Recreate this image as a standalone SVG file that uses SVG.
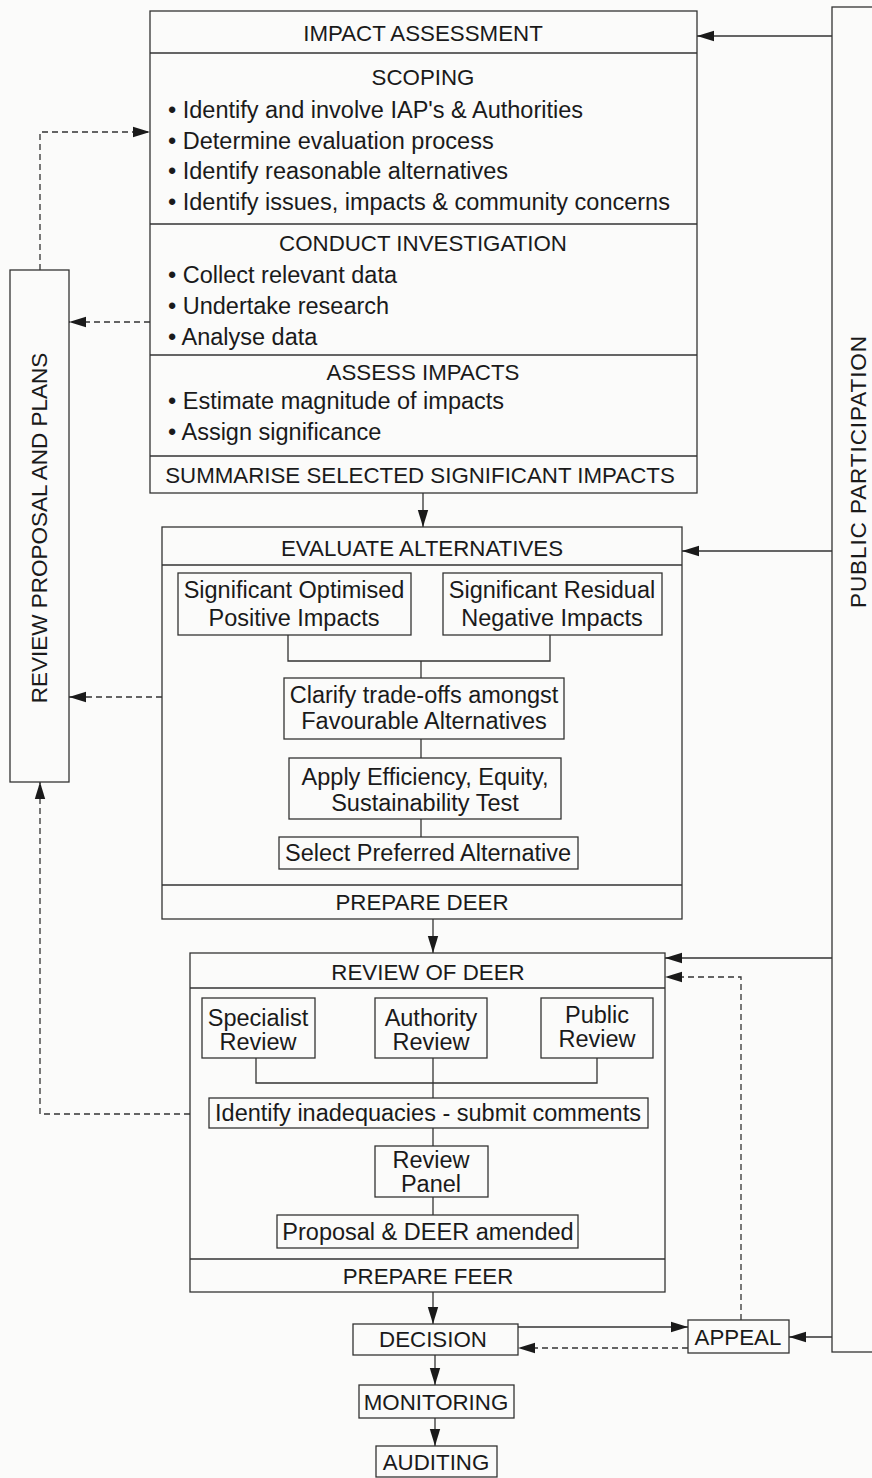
<svg xmlns="http://www.w3.org/2000/svg" width="872" height="1478" viewBox="0 0 872 1478">
<defs>
<style>
.bg{fill:#fbfbfa}
.box{fill:none;stroke:#333;stroke-width:1.3}
.ln{fill:none;stroke:#333;stroke-width:1.3}
.ds{fill:none;stroke:#333;stroke-width:1.3;stroke-dasharray:6,4}
.t{font-family:"Liberation Sans",Arial,sans-serif;font-size:23.5px;fill:#1a1a1a;dominant-baseline:central}
.c{font-family:"Liberation Sans",Arial,sans-serif;font-size:22.3px;fill:#1a1a1a;dominant-baseline:central;text-anchor:middle}
.v{font-size:22.5px}
.m{text-anchor:middle}
</style>
<marker id="ah" markerUnits="userSpaceOnUse" markerWidth="18" markerHeight="12" refX="17" refY="6" orient="auto">
<path d="M0,0.8 L17,6 L0,11.2 z" fill="#1a1a1a"/>
</marker>
</defs>
<rect class="bg" x="0" y="0" width="872" height="1478"/>

<g id="impact-assessment">
<rect class="box" x="150" y="11" width="547" height="482"/>
<line class="ln" x1="150" y1="53" x2="697" y2="53"/>
<line class="ln" x1="150" y1="224" x2="697" y2="224"/>
<line class="ln" x1="150" y1="355" x2="697" y2="355"/>
<line class="ln" x1="150" y1="456" x2="697" y2="456"/>
<text class="c" x="423" y="33">IMPACT ASSESSMENT</text>
<text class="c" x="423" y="77">SCOPING</text>
<text class="t" x="168" y="110">• Identify and involve IAP's &amp; Authorities</text>
<text class="t" x="168" y="141">• Determine evaluation process</text>
<text class="t" x="168" y="171">• Identify reasonable alternatives</text>
<text class="t" x="168" y="202">• Identify issues, impacts &amp; community concerns</text>
<text class="c" x="423" y="243">CONDUCT INVESTIGATION</text>
<text class="t" x="168" y="275">• Collect relevant data</text>
<text class="t" x="168" y="306">• Undertake research</text>
<text class="t" x="168" y="337">• Analyse data</text>
<text class="c" x="423" y="372">ASSESS IMPACTS</text>
<text class="t" x="168" y="401">• Estimate magnitude of impacts</text>
<text class="t" x="168" y="432">• Assign significance</text>
<text class="c" x="420" y="475">SUMMARISE SELECTED SIGNIFICANT IMPACTS</text>
</g>

<g id="evaluate-alternatives">
<rect class="box" x="162" y="527" width="520" height="392"/>
<line class="ln" x1="162" y1="565" x2="682" y2="565"/>
<line class="ln" x1="162" y1="885" x2="682" y2="885"/>
<text class="c" x="422" y="548">EVALUATE ALTERNATIVES</text>
<text class="c" x="422" y="902">PREPARE DEER</text>
</g>
<g id="positive-impacts">
<rect class="box" x="178" y="573" width="233" height="62"/>
<text class="t m" x="294" y="590">Significant Optimised</text>
<text class="t m" x="294" y="618">Positive Impacts</text>
</g>
<g id="negative-impacts">
<rect class="box" x="443" y="573" width="219" height="62"/>
<text class="t m" x="552" y="590">Significant Residual</text>
<text class="t m" x="552" y="618">Negative Impacts</text>
</g>
<g id="clarify">
<rect class="box" x="284" y="678" width="280" height="61"/>
<text class="t m" x="424" y="695">Clarify trade-offs amongst</text>
<text class="t m" x="424" y="721">Favourable Alternatives</text>
</g>
<g id="apply">
<rect class="box" x="289" y="758" width="272" height="61"/>
<text class="t m" x="425" y="777">Apply Efficiency, Equity,</text>
<text class="t m" x="425" y="803">Sustainability Test</text>
</g>
<g id="select">
<rect class="box" x="279" y="837" width="299" height="32"/>
<text class="t m" x="428" y="853">Select Preferred Alternative</text>
</g>

<g id="review-of-deer">
<rect class="box" x="190" y="953" width="475" height="339"/>
<line class="ln" x1="190" y1="988" x2="665" y2="988"/>
<line class="ln" x1="190" y1="1259" x2="665" y2="1259"/>
<text class="c" x="428" y="972">REVIEW OF DEER</text>
<text class="c" x="428" y="1276">PREPARE FEER</text>
</g>
<g id="specialist-review">
<rect class="box" x="202" y="998" width="113" height="60"/>
<text class="t m" x="258" y="1018">Specialist</text>
<text class="t m" x="258" y="1042">Review</text>
</g>
<g id="authority-review">
<rect class="box" x="375" y="998" width="112" height="60"/>
<text class="t m" x="431" y="1018">Authority</text>
<text class="t m" x="431" y="1042">Review</text>
</g>
<g id="public-review">
<rect class="box" x="541" y="998" width="112" height="60"/>
<text class="t m" x="597" y="1015">Public</text>
<text class="t m" x="597" y="1039">Review</text>
</g>
<g id="identify-inadequacies">
<rect class="box" x="209" y="1098" width="439" height="30"/>
<text class="t m" x="428" y="1113">Identify inadequacies - submit comments</text>
</g>
<g id="review-panel">
<rect class="box" x="375" y="1146" width="113" height="51"/>
<text class="t m" x="431" y="1160">Review</text>
<text class="t m" x="431" y="1184">Panel</text>
</g>
<g id="proposal-amended">
<rect class="box" x="277" y="1215" width="301" height="33"/>
<text class="t m" x="428" y="1232">Proposal &amp; DEER amended</text>
</g>

<g id="decision">
<rect class="box" x="353" y="1324" width="165" height="31"/>
<text class="c" x="433" y="1339">DECISION</text>
</g>
<g id="monitoring">
<rect class="box" x="359" y="1385" width="155" height="33"/>
<text class="c" x="436" y="1402">MONITORING</text>
</g>
<g id="auditing">
<rect class="box" x="376" y="1446" width="121" height="31"/>
<text class="c" x="436" y="1462">AUDITING</text>
</g>
<g id="appeal">
<rect class="box" x="688" y="1320" width="101" height="33"/>
<text class="c" x="738" y="1337">APPEAL</text>
</g>

<g id="review-proposal-and-plans">
<rect class="box" x="10" y="270" width="59" height="512"/>
<text class="c v" transform="translate(39.5,528) rotate(-90)">REVIEW PROPOSAL AND PLANS</text>
</g>
<g id="public-participation">
<rect class="box" x="832" y="7" width="60" height="1345"/>
<text class="c v" transform="translate(858,472) rotate(-90)" textLength="272" lengthAdjust="spacing">PUBLIC PARTICIPATION</text>
</g>

<g id="connectors">
<line class="ln" x1="423" y1="493" x2="423" y2="527" marker-end="url(#ah)"/>
<line class="ln" x1="433" y1="919" x2="433" y2="953" marker-end="url(#ah)"/>
<line class="ln" x1="433" y1="1292" x2="433" y2="1324" marker-end="url(#ah)"/>
<line class="ln" x1="435" y1="1355" x2="435" y2="1385" marker-end="url(#ah)"/>
<line class="ln" x1="435" y1="1418" x2="435" y2="1446" marker-end="url(#ah)"/>
<polyline class="ln" points="288,635 288,661 550,661 550,635"/>
<line class="ln" x1="421" y1="661" x2="421" y2="678"/>
<line class="ln" x1="421" y1="739" x2="421" y2="758"/>
<line class="ln" x1="421" y1="819" x2="421" y2="837"/>
<polyline class="ln" points="256,1058 256,1083 597,1083 597,1058"/>
<line class="ln" x1="433" y1="1058" x2="433" y2="1098"/>
<line class="ln" x1="433" y1="1128" x2="433" y2="1146"/>
<line class="ln" x1="433" y1="1197" x2="433" y2="1215"/>
<line class="ln" x1="832" y1="36" x2="697" y2="36" marker-end="url(#ah)"/>
<line class="ln" x1="832" y1="551" x2="682" y2="551" marker-end="url(#ah)"/>
<line class="ln" x1="832" y1="958" x2="665" y2="958" marker-end="url(#ah)"/>
<line class="ln" x1="832" y1="1337" x2="789" y2="1337" marker-end="url(#ah)"/>
<line class="ln" x1="518" y1="1327" x2="688" y2="1327" marker-end="url(#ah)"/>
<line class="ds" x1="688" y1="1348" x2="518" y2="1348" marker-end="url(#ah)"/>
<polyline class="ds" points="741,1320 741,977 665,977" marker-end="url(#ah)"/>
<polyline class="ds" points="40,270 40,132 150,132" marker-end="url(#ah)"/>
<line class="ds" x1="150" y1="322" x2="69" y2="322" marker-end="url(#ah)"/>
<line class="ds" x1="162" y1="697" x2="69" y2="697" marker-end="url(#ah)"/>
<polyline class="ds" points="190,1114 40,1114 40,782" marker-end="url(#ah)"/>
</g>
</svg>
